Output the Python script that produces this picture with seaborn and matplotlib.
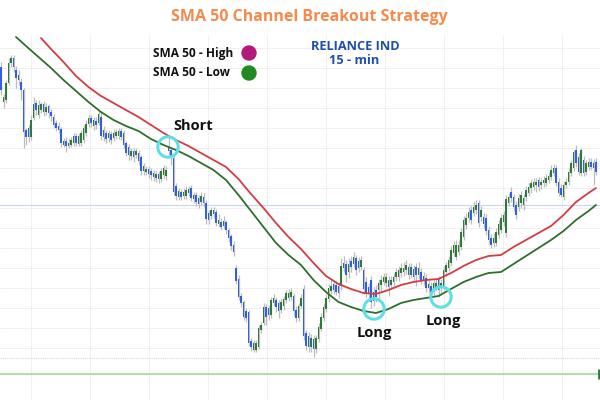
import numpy as np
import pandas as pd
import matplotlib
matplotlib.use("Agg")
import matplotlib.pyplot as plt
import seaborn as sns

# ---------------- data (price units) ----------------
open_ = [333, 298, 300, 317, 337, 342, 330, 320, 318, 310, 270, 272, 263, 282, 297, 285, 290, 296, 288, 294,
         288, 283, 277, 274, 271, 255, 259, 254, 255, 257, 264, 256, 257, 260, 267, 276, 282, 274, 279, 277,
         283, 270, 267, 262, 266, 262, 264, 264, 269, 267, 257, 253, 244, 249, 245, 247, 243, 234, 228, 231,
         229, 227, 222, 226, 221, 225, 224, 254, 250, 242, 214, 203, 208, 204, 204, 207, 212, 201, 205, 202,
         198, 203, 197, 187, 184, 190, 188, 176, 178, 174, 178, 170, 164, 155, 132, 121, 104, 98, 89, 88,
         59, 57, 50, 53, 70, 77, 93, 92, 85, 97, 100, 97, 90, 94, 100, 102, 103, 104, 90, 82,
         94, 111, 67, 64, 53, 61, 51, 61, 71, 82, 91, 101, 109, 116, 115, 114, 114, 132, 136, 128,
         139, 136, 142, 139, 133, 130, 118, 113, 120, 99, 110, 110, 115, 118, 117, 120, 115, 118, 123, 123,
         127, 128, 130, 133, 125, 131, 133, 125, 128, 124, 122, 112, 114, 110, 113, 120, 112, 113, 128, 132,
         137, 147, 143, 148, 153, 163, 175, 182, 190, 187, 190, 197, 183, 183, 182, 170, 162, 157, 157, 165,
         170, 178, 167, 197, 208, 203, 195, 193, 197, 195, 203, 207, 212, 213, 215, 220, 215, 217, 217, 220,
         223, 227, 232, 218, 212, 203, 215, 218, 227, 232, 250, 243, 227, 240, 228, 233, 238, 237, 238]
close = [310, 303, 317, 337, 342, 333, 322, 325, 310, 268, 263, 263, 280, 296, 290, 295, 296, 288, 293, 287,
         284, 275, 272, 270, 257, 259, 254, 257, 260, 264, 257, 264, 267, 272, 276, 282, 277, 280, 275, 286,
         264, 263, 261, 267, 260, 267, 268, 269, 263, 255, 247, 245, 249, 243, 249, 239, 229, 229, 231, 226,
         225, 223, 226, 221, 229, 232, 230, 249, 242, 208, 204, 209, 203, 208, 210, 211, 202, 205, 198, 196,
         204, 197, 181, 180, 190, 186, 177, 180, 173, 179, 170, 162, 154, 148, 119, 103, 97, 83, 82, 57,
         53, 50, 57, 72, 75, 93, 83, 85, 100, 102, 93, 89, 98, 101, 107, 107, 108, 89, 82, 94,
         102, 64, 54, 53, 62, 51, 62, 73, 83, 93, 102, 112, 114, 110, 108, 107, 134, 137, 125, 136,
         133, 143, 130, 132, 140, 111, 107, 107, 98, 108, 103, 117, 120, 123, 123, 113, 120, 123, 128, 130,
         132, 132, 135, 125, 133, 123, 125, 132, 120, 119, 112, 116, 108, 117, 117, 110, 117, 130, 135, 140,
         150, 155, 155, 155, 168, 180, 182, 188, 180, 193, 195, 177, 190, 176, 169, 160, 155, 162, 168, 176,
         182, 185, 201, 203, 202, 193, 185, 202, 205, 202, 210, 213, 217, 218, 218, 213, 218, 220, 222, 224,
         230, 232, 217, 207, 205, 215, 218, 228, 237, 248, 237, 228, 250, 227, 237, 238, 233, 232, 228]
high = [338, 306, 320, 342, 345, 345, 334, 330, 322, 312, 272, 275, 285, 303, 300, 300, 298, 299, 297, 296,
        291, 286, 280, 278, 273, 262, 263, 262, 263, 267, 267, 267, 270, 275, 280, 286, 285, 283, 283, 290,
        288, 274, 270, 270, 269, 271, 271, 272, 272, 270, 259, 256, 252, 252, 252, 250, 245, 237, 234, 234,
        232, 230, 229, 229, 232, 235, 234, 263, 253, 245, 217, 212, 211, 212, 214, 214, 215, 208, 208, 205,
        208, 207, 200, 190, 193, 193, 191, 186, 182, 184, 180, 172, 166, 159, 135, 125, 107, 100, 92, 90,
        62, 60, 60, 75, 78, 97, 96, 95, 103, 106, 103, 100, 101, 104, 110, 111, 112, 107, 94, 97,
        106, 115, 70, 68, 66, 65, 65, 77, 87, 97, 106, 116, 120, 119, 119, 118, 142, 144, 140, 142,
        144, 148, 145, 143, 144, 133, 123, 117, 124, 113, 115, 121, 125, 127, 127, 124, 124, 127, 132, 134,
        137, 138, 140, 137, 137, 135, 137, 138, 132, 128, 126, 120, 118, 120, 121, 124, 121, 134, 138, 144,
        154, 159, 160, 160, 172, 184, 187, 193, 194, 198, 200, 200, 194, 187, 186, 174, 166, 167, 172, 180,
        186, 189, 205, 207, 213, 206, 199, 206, 209, 206, 214, 217, 221, 222, 222, 223, 222, 224, 226, 228,
        235, 236, 235, 222, 216, 219, 222, 232, 240, 250, 255, 247, 252, 244, 240, 242, 242, 241, 242]
low = [305, 292, 297, 315, 333, 328, 312, 315, 300, 252, 255, 258, 260, 280, 285, 282, 287, 284, 285, 282,
       279, 272, 269, 267, 253, 253, 248, 252, 253, 254, 254, 254, 254, 257, 264, 273, 273, 270, 271, 275,
       260, 259, 257, 258, 256, 259, 261, 261, 260, 252, 244, 240, 240, 238, 242, 235, 225, 225, 225, 222,
       220, 219, 218, 217, 218, 222, 220, 245, 235, 205, 200, 200, 200, 201, 201, 204, 199, 197, 194, 192,
       195, 193, 176, 176, 181, 182, 174, 173, 170, 171, 166, 158, 150, 144, 116, 100, 93, 80, 78, 54,
       49, 48, 48, 51, 67, 75, 75, 80, 82, 94, 88, 82, 87, 90, 97, 99, 100, 84, 78, 79,
       92, 60, 50, 48, 48, 43, 47, 58, 69, 79, 88, 98, 106, 106, 105, 102, 110, 128, 118, 122,
       128, 133, 125, 128, 130, 106, 102, 102, 92, 94, 98, 101, 109, 115, 113, 104, 111, 114, 119, 119,
       123, 124, 126, 121, 122, 118, 114, 121, 116, 115, 108, 107, 104, 105, 109, 103, 108, 110, 124, 129,
       134, 144, 140, 145, 150, 160, 171, 178, 176, 184, 186, 173, 179, 172, 165, 156, 152, 153, 154, 162,
       167, 174, 163, 194, 198, 189, 181, 189, 192, 190, 199, 204, 207, 210, 208, 209, 211, 213, 214, 217,
       220, 224, 214, 204, 203, 200, 212, 215, 224, 229, 233, 225, 224, 224, 225, 230, 230, 215, 225]

sma_high_idx = [16, 20, 25, 30, 35, 40, 45, 50, 55, 60, 65, 70, 75, 80, 85, 90, 95, 100, 105, 110, 115, 120,
                125, 130, 135, 140, 145, 150, 155, 160, 165, 170, 175, 180, 185, 190, 195, 200, 205, 210,
                215, 220, 225, 230, 235, 238]
sma_high = [362, 351, 338, 324, 313, 304, 297, 290, 283, 275, 267, 260, 254, 247, 240, 233, 221, 206, 192, 177,
            163, 151, 137, 124, 116, 111, 107, 106, 110, 115, 118, 120, 121, 127, 134, 140, 144, 145, 153, 160,
            167, 174, 185, 198, 207, 212]
sma_low_idx = [6, 10, 15, 20, 25, 30, 35, 40, 45, 50, 55, 60, 65, 70, 75, 80, 85, 90, 95, 100, 105, 110, 115,
               120, 125, 130, 135, 140, 145, 150, 155, 160, 165, 170, 175, 180, 185, 190, 195, 200, 205, 210,
               215, 220, 225, 230, 235, 238]
sma_low = [363, 354, 343, 332, 320, 309, 298, 288, 280, 274, 269, 261, 255, 250, 244, 237, 230, 220, 205, 189,
           173, 157, 145, 135, 120, 108, 98, 93, 89, 87, 91, 97, 100, 102, 104, 111, 118, 123, 127, 128,
           136, 144, 152, 160, 169, 180, 189, 195]

signal_idx = [66.8, 149.2, 176.0]
signal_price = [253, 91, 103]
signal_label = ["Short", "Long", "Long"]
signal_text_offset = [(18, 15), (0, -17), (1.5, -17)]

ref_level = 195

# ---------------- style ----------------
sns.set_theme(style="white")
plt.rcParams["font.family"] = ["Open Sans", "DejaVu Sans"]

BLUE = "#2f5fe6"
GREEN = "#2e7a36"
WICK = "#bdbdbd"
RED_LINE = "#d33c44"
GREEN_LINE = "#2f6e2c"
CYAN = "#5ddfe6"

fig = plt.figure(figsize=(6, 4), dpi=100)
ax = fig.add_axes([0, 0, 1, 0.9125])

n = len(close)
idx = np.arange(n)
o = np.array(open_, dtype=float)
c = np.array(close, dtype=float)
h = np.array(high, dtype=float)
l = np.array(low, dtype=float)
up = c >= o
colors = np.where(up, GREEN, BLUE)

# grid
ax.set_xlim(-0.4, 239.6)
ax.set_ylim(0, 365)
ax.set_xticks(np.arange(12, 240, 23.6))
ax.set_yticks(np.arange(52, 365, 20))
ax.grid(True, color="#f0f0f0", linewidth=0.7)
ax.tick_params(labelbottom=False, labelleft=False, length=0)
for s in ax.spines.values():
    s.set_visible(False)

ax.axhline(ref_level, color="#c9d6f2", lw=0.8, zorder=1)
ax.axhline(42, color="#d8d8d8", lw=0.8, ls=(0, (1, 1)), zorder=1)
ax.axhline(26, color="#b7dcb4", lw=1.6, zorder=1)
ax.vlines(239.1, 21, 31, color="#2e7a36", lw=2, zorder=2)

# candles
ax.vlines(idx, l, h, color=WICK, lw=0.9, zorder=2)
body_h = np.maximum(np.abs(c - o), 1.2)
body_b = np.minimum(o, c)
ax.bar(idx, body_h, bottom=body_b, width=0.7, color=colors, linewidth=0, zorder=3)

# SMA channel
sns.lineplot(x=sma_high_idx, y=sma_high, color=RED_LINE, lw=1.3, ax=ax, zorder=4)
sns.lineplot(x=sma_low_idx, y=sma_low, color=GREEN_LINE, lw=1.3, ax=ax, zorder=4)

# signals
ax.scatter(signal_idx, signal_price, s=215, facecolors="none", edgecolors=CYAN, linewidths=2.2, zorder=6)
for xi, yi, lab, off in zip(signal_idx, signal_price, signal_label, signal_text_offset):
    ax.annotate(lab, (xi, yi), xytext=off, textcoords="offset points", ha="center", va="center",
                fontsize=10.5, fontweight="bold", color="#111111", zorder=7)

# texts
fig.text(0.515, 0.9575, "SMA 50 Channel Breakout Strategy", ha="center", va="center",
         fontsize=11.5, fontweight="bold", color="#f58a4b")
fig.text(0.255, 0.8675, "SMA 50 - High", ha="left", va="center", fontsize=8.6, fontweight="bold", color="#111111")
fig.text(0.255, 0.8175, "SMA 50 - Low", ha="left", va="center", fontsize=8.6, fontweight="bold", color="#111111")
fig.text(0.593, 0.885, "RELIANCE IND", ha="center", va="center", fontsize=9.2, fontweight="bold", color="#1f4fae")
fig.text(0.59, 0.8475, "15 - min", ha="center", va="center", fontsize=9.2, fontweight="bold", color="#1f4fae")
fig.add_artist(matplotlib.patches.Ellipse((0.415, 0.8675), 14 / 600, 14 / 400, transform=fig.transFigure,
                                          color="#b3197c"))
fig.add_artist(matplotlib.patches.Ellipse((0.415, 0.8175), 14 / 600, 14 / 400, transform=fig.transFigure,
                                          color="#1f8a1f"))

fig.savefig("out.png", dpi=100)
